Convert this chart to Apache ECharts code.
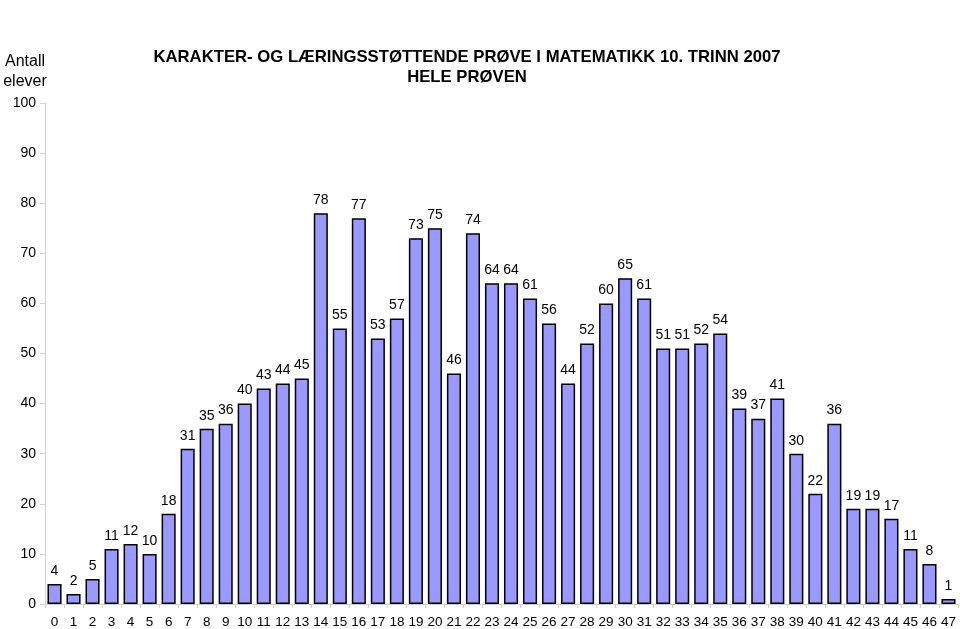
<!DOCTYPE html>
<html><head><meta charset="utf-8">
<script src="https://cdn.jsdelivr.net/npm/echarts@6/dist/echarts.min.js"></script>
<style>html,body{margin:0;padding:0;background:#fff}#c{width:960px;height:629px}</style>
</head><body><div id="c"></div>
<script>
const categories = ["0","1","2","3","4","5","6","7","8","9","10","11","12","13","14","15","16","17","18","19","20","21","22","23","24","25","26","27","28","29","30","31","32","33","34","35","36","37","38","39","40","41","42","43","44","45","46","47"];
const counts = [4,2,5,11,12,10,18,31,35,36,40,43,44,45,78,55,77,53,57,73,75,46,74,64,64,61,56,44,52,60,65,61,51,51,52,54,39,37,41,30,22,36,19,19,17,11,8,1];
const yTicks = [0,10,20,30,40,50,60,70,80,90,100];
const titleLines = ["KARAKTER- OG LÆRINGSSTØTTENDE PRØVE I MATEMATIKK 10. TRINN 2007","HELE PRØVEN"];
const yNameLines = ["Antall","elever"];

const chart = echarts.init(document.getElementById('c'));
const font = 'Liberation Sans, Arial, sans-serif';
chart.setOption({
  animation:false,
  title:[
    {text:titleLines.join('\n'),left:467,top:47,textAlign:'center',padding:0,
     textStyle:{fontFamily:font,fontSize:16.7,fontWeight:'bold',color:'#000',lineHeight:20}},
    {text:yNameLines.join('\n'),left:25,top:52,textAlign:'center',padding:0,
     textStyle:{fontFamily:font,fontSize:16,fontWeight:'normal',color:'#000',lineHeight:20}}
  ],
  grid:{left:45,right:2,top:103,bottom:24},
  xAxis:{type:'category',data:categories,boundaryGap:true,
    axisLine:{lineStyle:{color:'#d0d0d0',width:1}},
    axisTick:{show:true,length:4,lineStyle:{color:'#d0d0d0'}},
    axisLabel:{fontFamily:font,fontSize:13.5,color:'#000',margin:11,interval:0}},
  yAxis:{type:'value',min:0,max:100,interval:10,
    axisLine:{show:true,lineStyle:{color:'#d0d0d0',width:1}},
    axisTick:{show:true,length:5,lineStyle:{color:'#d0d0d0'}},
    splitLine:{show:false},
    axisLabel:{fontFamily:font,fontSize:14,color:'#000',margin:9,
      formatter:v=>yTicks.includes(v)?String(v):''}},
  series:[{type:'bar',data:counts,barCategoryGap:'26%',
    itemStyle:{color:'#9999FF',borderColor:'#000',borderWidth:1.5},
    label:{show:true,position:'top',distance:6,fontFamily:font,fontSize:14,color:'#000'}}]
});
</script></body></html>
